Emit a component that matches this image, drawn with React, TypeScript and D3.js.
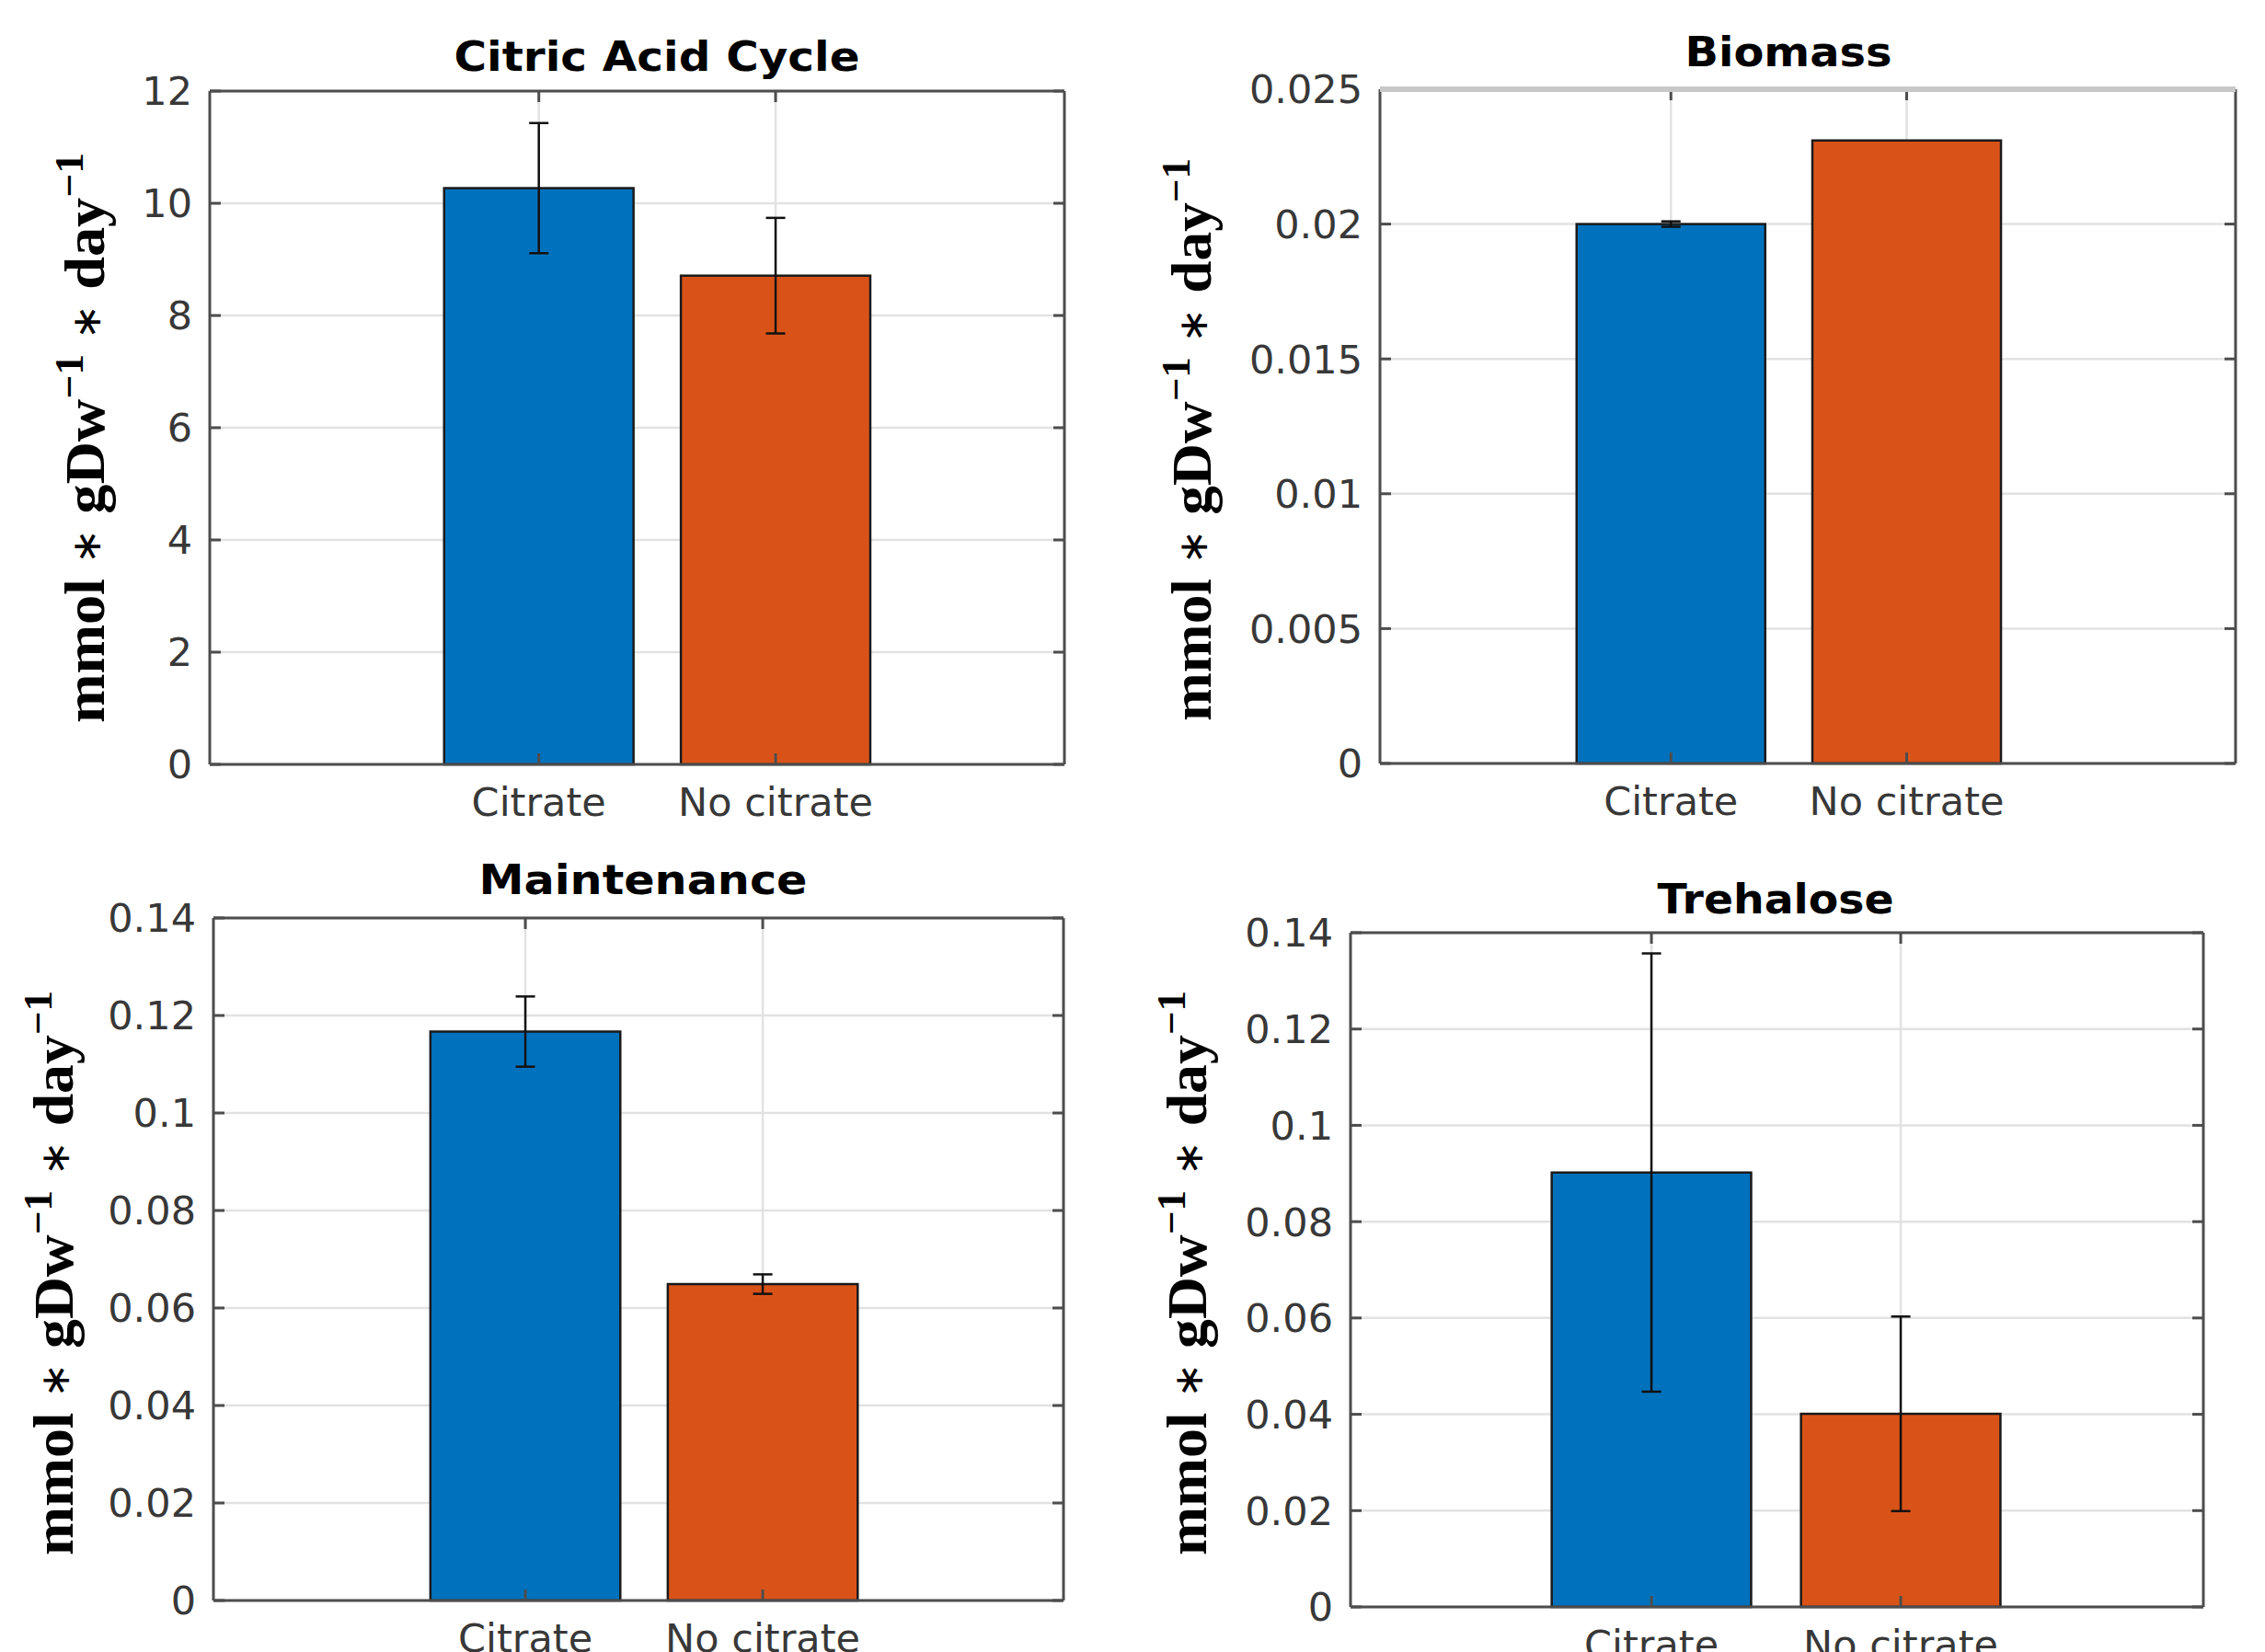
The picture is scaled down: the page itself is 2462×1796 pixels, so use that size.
import React from 'react';
import * as d3 from 'd3';

const categories = ['Citrate', 'No citrate'];
const barColors = ['#0072BD', '#D95319'];

const citricValues = [10.27, 8.71];
const citricErrors = [1.16, 1.03];
const citricTicks = [0, 2, 4, 6, 8, 10, 12];

const biomassValues = [0.02, 0.0231];
const biomassErrors = [0.0001, 0];
const biomassTicks = [0, 0.005, 0.01, 0.015, 0.02, 0.025];

const maintenanceValues = [0.1167, 0.0649];
const maintenanceErrors = [0.0072, 0.002];

const trehaloseValues = [0.0902, 0.0401];
const trehaloseErrors = [0.0455, 0.0202];

const smallTicks = [0, 0.02, 0.04, 0.06, 0.08, 0.1, 0.12, 0.14];

const panels = [
  {
    title: 'Citric Acid Cycle', values: citricValues, errors: citricErrors, ticks: citricTicks,
    left: 228, right: 1157, top: 99, bottom: 831, xDomain: [-0.39, 3.22],
    titleX: 714, titleY: 77, titleLen: 441, labelX: 113, labelY: 476, labelLen: 620, topStroke: null,
  },
  {
    title: 'Biomass', values: biomassValues, errors: biomassErrors, ticks: biomassTicks,
    left: 1500, right: 2430, top: 97, bottom: 830, xDomain: [-0.234, 3.395],
    titleX: 1944, titleY: 72, titleLen: 225, labelX: 1316, labelY: 478, labelLen: 612, topStroke: '#c8c8c8',
  },
  {
    title: 'Maintenance', values: maintenanceValues, errors: maintenanceErrors, ticks: smallTicks,
    left: 232, right: 1156, top: 998, bottom: 1740, xDomain: [-0.314, 3.267],
    titleX: 699, titleY: 972, titleLen: 357, labelX: 79, labelY: 1384, labelLen: 614, topStroke: null,
  },
  {
    title: 'Trehalose', values: trehaloseValues, errors: trehaloseErrors, ticks: smallTicks,
    left: 1468, right: 2395, top: 1014, bottom: 1747, xDomain: [-0.207, 3.214],
    titleX: 1930, titleY: 993, titleLen: 257, labelX: 1311, labelY: 1384, labelLen: 614, topStroke: null,
  },
];

const fmt = (v: number) => String(+v.toPrecision(6));

const axisColor = '#4d4d4d';
const gridColor = '#e2e2e2';
const tickLen = 12;

function Panel({ p }: { p: any }) {
  const x = d3.scaleLinear().domain(p.xDomain).range([p.left, p.right]);
  const y = d3.scaleLinear().domain([0, p.ticks[p.ticks.length - 1]]).range([p.bottom, p.top]);
  const barW = x(0.8) - x(0);
  const cx = (i: number) => x(i + 1);

  return (
    <g>
      {/* grid */}
      {p.ticks.map((t: number) => (
        <line key={'gy' + t} x1={p.left} x2={p.right} y1={y(t)} y2={y(t)} stroke={gridColor} strokeWidth={2.5} />
      ))}
      {categories.map((c, i) => (
        <line key={'gx' + c} x1={cx(i)} x2={cx(i)} y1={p.top} y2={p.bottom} stroke={gridColor} strokeWidth={2.5} />
      ))}

      {/* bars */}
      {p.values.map((v: number, i: number) => (
        <rect key={'b' + i} x={cx(i) - barW / 2} y={y(v)} width={barW} height={y(0) - y(v)}
          fill={barColors[i]} stroke="#1a1a1a" strokeWidth={2.5} />
      ))}

      {/* ticks (inward) */}
      {p.ticks.map((t: number) => (
        <g key={'t' + t}>
          <line x1={p.left} x2={p.left + tickLen} y1={y(t)} y2={y(t)} stroke={axisColor} strokeWidth={3} />
          <line x1={p.right} x2={p.right - tickLen} y1={y(t)} y2={y(t)} stroke={axisColor} strokeWidth={3} />
        </g>
      ))}
      {categories.map((c, i) => (
        <g key={'xt' + c}>
          <line x1={cx(i)} x2={cx(i)} y1={p.bottom} y2={p.bottom - tickLen} stroke={axisColor} strokeWidth={3} />
          <line x1={cx(i)} x2={cx(i)} y1={p.top} y2={p.top + tickLen} stroke={axisColor} strokeWidth={3} />
        </g>
      ))}

      {/* error bars */}
      {p.values.map((v: number, i: number) => {
        const e = p.errors[i];
        if (!e) return null;
        const hi = y(v + e), lo = y(v - e);
        return (
          <g key={'e' + i} stroke="#111" strokeWidth={2.5}>
            <line x1={cx(i)} x2={cx(i)} y1={hi} y2={lo} />
            <line x1={cx(i) - 10.5} x2={cx(i) + 10.5} y1={hi} y2={hi} />
            <line x1={cx(i) - 10.5} x2={cx(i) + 10.5} y1={lo} y2={lo} />
          </g>
        );
      })}

      {/* axes box */}
      <line x1={p.left} x2={p.left} y1={p.top} y2={p.bottom} stroke={axisColor} strokeWidth={3} />
      <line x1={p.right} x2={p.right} y1={p.top} y2={p.bottom} stroke={axisColor} strokeWidth={3} />
      <line x1={p.left} x2={p.right} y1={p.bottom} y2={p.bottom} stroke={axisColor} strokeWidth={3} />
      <line x1={p.left} x2={p.right} y1={p.top} y2={p.top}
        stroke={p.topStroke || axisColor} strokeWidth={p.topStroke ? 6 : 3} />

      {/* tick labels */}
      {p.ticks.map((t: number) => (
        <text key={'yl' + t} x={p.left - 19} y={y(t)} dy="0.36em" textAnchor="end"
          fontFamily="'DejaVu Sans', sans-serif" fontSize={43} fill="#383838">{fmt(t)}</text>
      ))}
      {categories.map((c, i) => (
        <text key={'xl' + c} x={cx(i)} y={p.bottom + 56} textAnchor="middle"
          fontFamily="'DejaVu Sans', sans-serif" fontSize={43} fill="#383838">{c}</text>
      ))}

      {/* title */}
      <text x={p.titleX} y={p.titleY} textAnchor="middle" fontFamily="'DejaVu Sans', sans-serif"
        fontWeight="bold" fontSize={44} fill="#000" textLength={p.titleLen} lengthAdjust="spacingAndGlyphs">
        {p.title}
      </text>

      {/* y label */}
      <text transform={`translate(${p.labelX},${p.labelY}) rotate(-90)`} textAnchor="middle"
        fontFamily="'Liberation Serif', serif" fontWeight="bold" fontSize={62} fill="#000"
        textLength={p.labelLen} lengthAdjust="spacingAndGlyphs">
        {'mmol '}
        <tspan fontFamily="'DejaVu Sans', sans-serif" fontWeight="normal" fontSize={44} dy={-4}>{'\u2217'}</tspan>
        <tspan dy={4}>{' gDw'}</tspan>
        <tspan fontSize={44} dy={-23}>{'\u22121'}</tspan>
        <tspan dy={19}>{' '}</tspan>
        <tspan fontFamily="'DejaVu Sans', sans-serif" fontWeight="normal" fontSize={44}>{'\u2217'}</tspan>
        <tspan dy={4}>{' day'}</tspan>
        <tspan fontSize={44} dy={-23}>{'\u22121'}</tspan>
      </text>
    </g>
  );
}

export default function App() {
  return (
    <svg width={2462} height={1796} style={{ position: 'absolute', left: 0, top: 0, background: '#fff' }}>
      <rect width={2462} height={1796} fill="#fff" />
      {panels.map((p) => <Panel key={p.title} p={p} />)}
    </svg>
  );
}
